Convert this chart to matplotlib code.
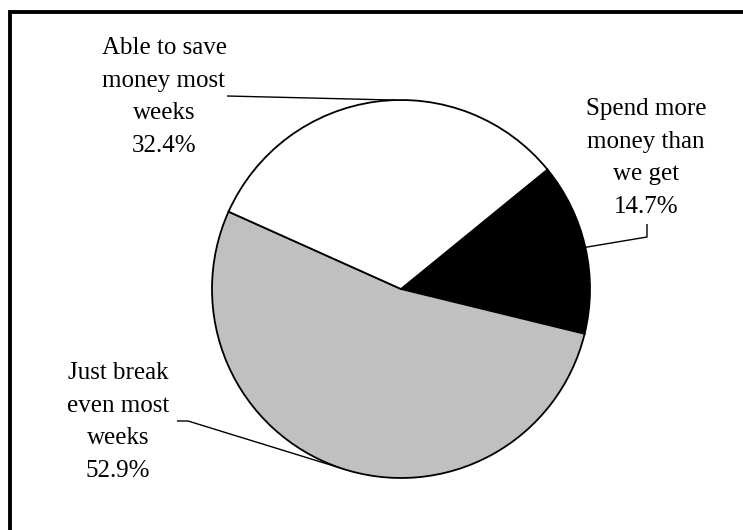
import numpy as np
import matplotlib
matplotlib.use("Agg")
import matplotlib.pyplot as plt
from matplotlib.patches import Rectangle

W, H = 743, 530

labels = ["Spend more\nmoney than\nwe get", "Just break\neven most\nweeks", "Able to save\nmoney most\nweeks"]
shares = [14.7, 52.9, 32.4]
colors = ["#000000", "#c0c0c0", "#ffffff"]

# label block centres and leader elbows, in pixel units from the top-left
label_pos = [(646, 158), (118, 422), (164, 97)]
leader_start = [[(647, 224), (647, 237)], [(177, 421), (188, 421)], [(227, 96)]]
# where along each wedge's arc the leader lands (0 = theta1, 1 = theta2)
leader_frac = [0.5, 0.5, 0.45]

center = (401, 289)
radius = 189
start_angle = 39.2


def flip(p):
    return (p[0], H - p[1])


fig = plt.figure(figsize=(W / 100, H / 100), dpi=100)
ax = fig.add_axes([0, 0, 1, 1])

cx, cy = flip(center)
wedges, _ = ax.pie(
    shares,
    colors=colors,
    startangle=start_angle,
    counterclock=False,
    center=(cx, cy),
    radius=radius,
    wedgeprops=dict(edgecolor="black", linewidth=1.3),
    frame=True,
)
ax.set_xlim(0, W)
ax.set_ylim(0, H)
ax.set_aspect("equal")
ax.axis("off")

plt.rcParams["font.family"] = ["Liberation Serif", "DejaVu Serif"]

for w, lab, share, pos, pts, frac in zip(wedges, labels, shares, label_pos,
                                          leader_start, leader_frac):
    ang = np.deg2rad(w.theta1 + frac * (w.theta2 - w.theta1))
    edge = (cx + radius * np.cos(ang), cy + radius * np.sin(ang))
    path = [flip(p) for p in pts] + [edge]
    xs, ys = zip(*path)
    ax.plot(xs, ys, color="black", linewidth=1.0, solid_capstyle="butt")
    tx, ty = flip(pos)
    ax.text(tx, ty, f"{lab}\n{share:.1f}%", ha="center", va="center",
            fontsize=18, linespacing=1.64, color="black")

# outer frame, running off the right and bottom of the canvas
ax.add_patch(Rectangle((10, -20), W + 20, H - 12 + 20, fill=False,
                       edgecolor="black", linewidth=2.8))

fig.savefig("out.png", dpi=100)
